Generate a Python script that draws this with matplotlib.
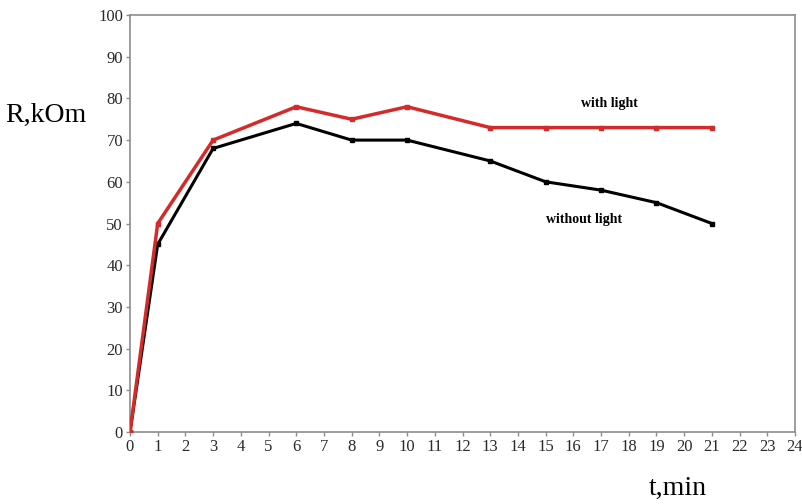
import matplotlib.pyplot as plt

plt.rcParams['font.family'] = ['Liberation Serif', 'DejaVu Serif']

# time, min
t = [0, 1, 3, 6, 8, 10, 13, 15, 17, 19, 21]
# resistance, kOm
r_light = [0, 50, 70, 78, 75, 78, 73, 73, 73, 73, 73]
r_dark = [0, 45, 68, 74, 70, 70, 65, 60, 58, 55, 50]

fig = plt.figure(figsize=(8.02, 5.04), dpi=100)
ax = fig.add_axes([130 / 802, 1 - 432 / 504, 665 / 802, 417 / 504])

ax.plot(t, r_dark, color='black', lw=2.2, marker='s', ms=3.5, zorder=3)
ax.plot(t, r_light, color='#d42a2a', lw=2.5, marker='s', ms=3.5, zorder=4)

ax.set_xlim(0, 24)
ax.set_ylim(0, 100)
ax.set_xticks(range(0, 25))
ax.set_yticks(range(0, 101, 10))
for s in ax.spines.values():
    s.set_color('#8c8c8c')
    s.set_linewidth(1.2)
ax.tick_params(colors='#8c8c8c', length=3, width=1, labelcolor='#2a2a2a',
               labelsize=12, pad=2)

ax.text(17.3, 78, 'with light', fontsize=10, fontweight='bold', ha='center')
ax.text(16.4, 50, 'without light', fontsize=10, fontweight='bold', ha='center')

fig.text(5 / 802, 1 - 115 / 504, 'R,kOm', fontsize=20, va='center', ha='left')
fig.text(678 / 802, 1 - 488 / 504, 't,min', fontsize=20, va='center', ha='center')

fig.savefig('out.png', dpi=100)
